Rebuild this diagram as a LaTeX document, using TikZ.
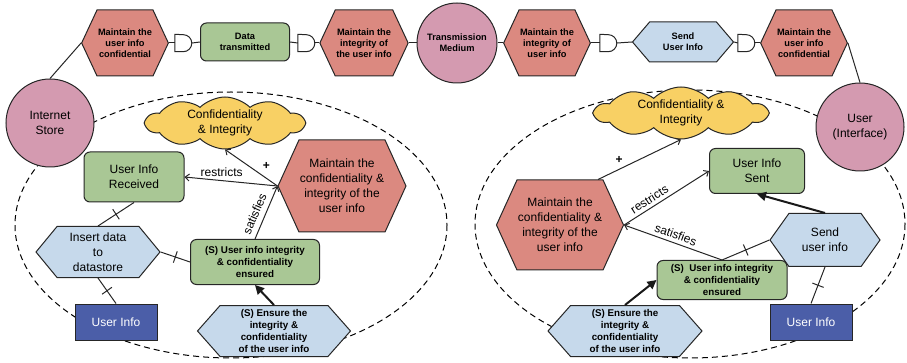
\documentclass[tikz,border=0pt]{standalone}
\usepackage{fontspec}
\setmainfont{Liberation Sans}
\usetikzlibrary{arrows.meta,shapes.symbols,decorations.markings}

\definecolor{goalred}{RGB}{219,137,128}
\definecolor{actorpink}{RGB}{212,154,176}
\definecolor{softgreen}{RGB}{169,199,149}
\definecolor{taskblue}{RGB}{198,217,235}
\definecolor{resblue}{RGB}{75,94,168}
\definecolor{cloudyellow}{RGB}{248,208,100}

\tikzset{
  elem/.style={draw=black!85, line width=1pt, align=center, inner sep=1pt},
  bfs/.style={font=\fontsize{9.25}{10.7}\selectfont\bfseries},
  bfm/.style={font=\fontsize{9.8}{12.3}\selectfont\bfseries},
  rgl/.style={font=\fontsize{12}{15}\selectfont},
  actor/.style={elem, circle, fill=actorpink, minimum size=88pt},
  hexgoal/.style={elem, signal, signal to=west and east, fill=goalred},
  hextask/.style={elem, signal, signal to=west and east, fill=taskblue},
  softbox/.style={elem, rounded corners=6pt, fill=softgreen},
  resbox/.style={elem, fill=resblue, text=white, rgl},
  softcloud/.style={elem, cloud, cloud puffs=10, cloud puff arc=90, cloud ignores aspect, inner sep=0pt, fill=cloudyellow},
  gatebox/.style={inner sep=0pt, minimum width=17pt, minimum height=17pt},
  wire/.style={line width=1pt, draw=black!85},
  link/.style={wire, -{Straight Barb[length=4pt,width=7pt]}},
  meansend/.style={line width=2pt, draw=black!90, -{Triangle[length=9pt,width=9pt]}},
  dec/.style={wire, postaction={decorate},
    decoration={markings, mark=at position 0.5 with {\draw[wire] (0pt,-6pt) -- (0pt,6pt);}}},
  boundary/.style={line width=1pt, dash pattern=on 6pt off 4pt},
}

% and-decomposition gate, flat side west
\def\andgate(#1)#2{%
  \node[gatebox] (#2) at (#1) {};
  \draw[wire, fill=white] (#2.north west) -- (#2.south west) -- ([xshift=8.5pt]#2.south west)
    arc[start angle=-90, end angle=90, radius=8.5pt] -- cycle;
}

\begin{document}
\begin{tikzpicture}[x=1pt, y=-1pt]
  \useasboundingbox (0,0) rectangle (907,363);

  %%%%% boundaries %%%%%
  \draw[boundary] (231,225) ellipse [x radius=216, y radius=133];
  \draw[boundary] (690,224) ellipse [x radius=215, y radius=134];

  %%%%% top row %%%%%
  \node[actor, rgl] (store) at (50,123) {Internet\\Store};
  \node[hexgoal, bfs, minimum width=81pt, minimum height=66pt, signal pointer angle=130] (h1) at (125,43) {Maintain the\\user info\\confidential};
  \andgate(183.5,43){g1}
  \node[softbox, bfs, minimum width=89pt, minimum height=38pt] (data) at (245,42) {Data\\transmitted};
  \andgate(306.5,43){g2}
  \node[hexgoal, bfs, minimum width=81pt, minimum height=66pt, signal pointer angle=130] (h2) at (364,43) {Maintain the\\integrity of\\the user info};
  \node[actor, bfs, minimum size=80pt] (medium) at (457,43) {Transmission\\Medium};
  \node[hexgoal, bfs, minimum width=81pt, minimum height=66pt, signal pointer angle=130] (h3) at (547,43) {Maintain the\\integrity of\\user info};
  \andgate(608.5,43){g3}
  \node[hextask, bfs, minimum width=101pt, minimum height=40pt, signal pointer angle=99] (send) at (683,42) {Send\\User Info};
  \andgate(746.5,43){g4}
  \node[hexgoal, bfs, minimum width=81pt, minimum height=66pt, signal pointer angle=130] (h4) at (804,43) {Maintain the\\user info\\confidential};
  \node[actor, rgl] (user) at (860,127) {User\\(Interface)};

  \draw[wire] (store.north) -- (h1.west);
  \draw[wire] (h1.east) -- (g1.west);
  \draw[wire] (g1.east) -- (data.west);
  \draw[wire] (data.east) -- (g2.west);
  \draw[wire] (g2.east) -- (h2.west);
  \draw[wire] (h2.east) -- (medium.west);
  \draw[wire] (medium.east) -- (h3.west);
  \draw[wire] (h3.east) -- (g3.west);
  \draw[wire] (g3.east) -- (send.west);
  \draw[wire] (send.east) -- (g4.west);
  \draw[wire] (g4.east) -- (h4.west);
  \draw[wire] (h4.east) -- (user.north);

  %%%%% internet store %%%%%
  \node[softcloud, minimum width=158pt, minimum height=52pt, label={[rgl, align=center]center:{Confidentiality\\\& Integrity}}] (lcloud) at (225,123) {};
  \node[softbox, rgl, minimum width=100pt, minimum height=50pt] (lrecv) at (134,177) {User Info\\Received};
  \node[hexgoal, rgl, minimum width=119pt, minimum height=92pt, signal pointer angle=131] (lgoal) at (342,186) {Maintain the\\confidentiality \&\\integrity of the\\user info};
  \node[hextask, rgl, minimum width=124pt, minimum height=51pt, signal pointer angle=101] (linsert) at (98,252) {Insert data\\to\\datastore};
  \node[softbox, bfm, minimum width=129pt, minimum height=45pt] (lsoft) at (255,262) {(S) User info integrity\\\& confidentiality\\ensured};
  \node[resbox, minimum width=82pt, minimum height=36pt] (linfo) at (116,322) {User Info};
  \node[hextask, bfm, minimum width=153pt, minimum height=51pt, signal pointer angle=97] (lensure) at (274,331) {(S) Ensure the\\integrity \&\\confidentiality\\of the user info};

  \draw[link] (lgoal.west) -- node[rgl, above right, pos=0.35] {\textbf{+}} (lcloud.south);
  \draw[link] (lgoal.west) -- node[rgl, above, pos=0.6] {restricts} (lrecv.east);
  \draw[link] (lsoft.north) -- node[rgl, above=2pt, sloped, pos=0.4] {satisfies} (lgoal.west);
  \draw[dec] (lrecv.south) -- (linsert.north);
  \draw[dec] (linsert.east) -- (lsoft.west);
  \draw[dec] (linsert.south) -- (linfo.north);
  \draw[meansend] (lensure.north) -- (lsoft.south);

  %%%%% user interface %%%%%
  \node[softcloud, minimum width=172pt, minimum height=52pt, label={[rgl, align=center]center:{Confidentiality \&\\Integrity}}] (rcloud) at (681,113) {};
  \node[hexgoal, rgl, minimum width=120pt, minimum height=90pt, signal pointer angle=131] (rgoal) at (560,225) {Maintain the\\confidentiality \&\\integrity of the\\user info};
  \node[softbox, rgl, minimum width=95pt, minimum height=45pt] (rsent) at (757,171) {User Info\\Sent};
  \node[hextask, rgl, minimum width=110pt, minimum height=53pt, signal pointer angle=109] (rsend) at (825,240) {Send\\user info};
  \node[softbox, bfm, minimum width=130pt, minimum height=39pt] (rsoft) at (722,280) {(S)\ \ User info integrity\\\& confidentiality\\ensured};
  \node[resbox, minimum width=82pt, minimum height=36pt] (rinfo) at (811,322) {User Info};
  \node[hextask, bfm, minimum width=154pt, minimum height=51pt, signal pointer angle=97] (rensure) at (625,331) {(S) Ensure the\\integrity \&\\confidentiality\\of the user info};

  \draw[link] ([xshift=38pt]rgoal.north) -- node[rgl, above left=-1pt, pos=0.33] {\textbf{+}} (rcloud.south);
  \draw[link] (rgoal.east) -- node[rgl, above, sloped, pos=0.35] {restricts} (rsent.west);
  \draw[link] (rsoft.north) -- node[rgl, above, sloped] {satisfies} (rgoal.east);
  \draw[dec] (rsoft.north) -- (rsend.west);
  \draw[dec] (rsend.south) -- (rinfo.north);
  \draw[meansend] (rsend.north) -- (rsent.south);
  \draw[meansend] (rensure.north) -- (rsoft.west);
\end{tikzpicture}
\end{document}
